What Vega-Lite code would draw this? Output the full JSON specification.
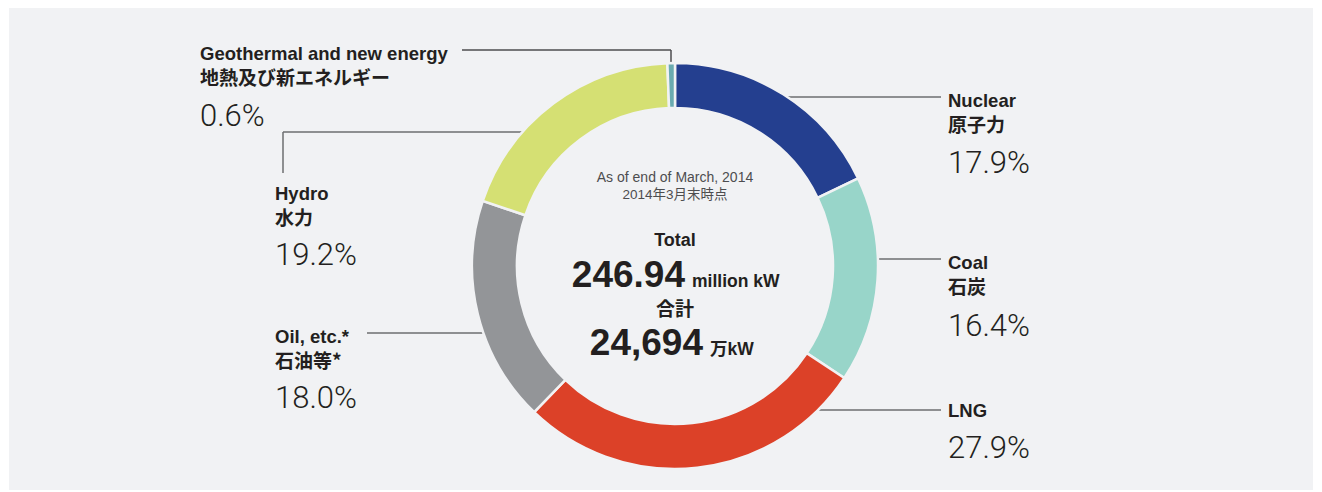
{
  "$schema": "https://vega.github.io/schema/vega-lite/v6.json",
  "width": 1304,
  "height": 482,
  "autosize": {"type": "none"},
  "padding": {"left": 9, "top": 8, "right": 9, "bottom": 2},
  "background": "#ffffff",
  "config": {"view": {"fill": "#f1f2f4", "stroke": null}},
  "datasets": {
    "energy": [
      {"source": "Nuclear", "jp": "原子力", "share": 0.179},
      {"source": "Coal", "jp": "石炭", "share": 0.164},
      {"source": "LNG", "jp": "", "share": 0.279},
      {"source": "Oil, etc.*", "jp": "石油等*", "share": 0.18},
      {"source": "Hydro", "jp": "水力", "share": 0.192},
      {"source": "Geothermal and new energy", "jp": "地熱及び新エネルギー", "share": 0.006}
    ],
    "total": [
      {"date_en": "As of end of March, 2014", "date_jp": "2014年3月末時点", "million_kw": 246.94, "man_kw": 24694}
    ]
  },
  "data": {"name": "energy"},
  "layer": [
    {"transform": [{"filter": {"field": "source", "equal": "Nuclear"}}], "mark": {"type": "rule", "stroke": "#6d6e71", "strokeWidth": 1.5},
     "encoding": {"x": {"datum": 112, "scale": {"domain": [-666, 638], "nice": false, "zero": false}, "axis": null}, "x2": {"datum": 266}, "y": {"datum": -169, "scale": {"domain": [-258, 224], "reverse": true, "nice": false, "zero": false}, "axis": null}}},
    {"transform": [{"filter": {"field": "source", "equal": "Coal"}}], "mark": {"type": "rule", "stroke": "#6d6e71", "strokeWidth": 1.5},
     "encoding": {"x": {"datum": 200, "scale": {"domain": [-666, 638], "nice": false, "zero": false}, "axis": null}, "x2": {"datum": 266}, "y": {"datum": -7, "scale": {"domain": [-258, 224], "reverse": true, "nice": false, "zero": false}, "axis": null}}},
    {"transform": [{"filter": {"field": "source", "equal": "LNG"}}], "mark": {"type": "rule", "stroke": "#6d6e71", "strokeWidth": 1.5},
     "encoding": {"x": {"datum": 140, "scale": {"domain": [-666, 638], "nice": false, "zero": false}, "axis": null}, "x2": {"datum": 266}, "y": {"datum": 144, "scale": {"domain": [-258, 224], "reverse": true, "nice": false, "zero": false}, "axis": null}}},
    {"transform": [{"filter": {"field": "source", "equal": "Oil, etc.*"}}], "mark": {"type": "rule", "stroke": "#6d6e71", "strokeWidth": 1.5},
     "encoding": {"x": {"datum": -308, "scale": {"domain": [-666, 638], "nice": false, "zero": false}, "axis": null}, "x2": {"datum": -190}, "y": {"datum": 67, "scale": {"domain": [-258, 224], "reverse": true, "nice": false, "zero": false}, "axis": null}}},
    {"transform": [{"filter": {"field": "source", "equal": "Hydro"}}], "mark": {"type": "rule", "stroke": "#6d6e71", "strokeWidth": 1.5},
     "encoding": {"x": {"datum": -392, "scale": {"domain": [-666, 638], "nice": false, "zero": false}, "axis": null}, "x2": {"datum": -150}, "y": {"datum": -134, "scale": {"domain": [-258, 224], "reverse": true, "nice": false, "zero": false}, "axis": null}}},
    {"transform": [{"filter": {"field": "source", "equal": "Hydro"}}], "mark": {"type": "rule", "stroke": "#6d6e71", "strokeWidth": 1.5},
     "encoding": {"x": {"datum": -392, "scale": {"domain": [-666, 638], "nice": false, "zero": false}, "axis": null}, "y": {"datum": -134, "scale": {"domain": [-258, 224], "reverse": true, "nice": false, "zero": false}, "axis": null}, "y2": {"datum": -93}}},
    {"transform": [{"filter": {"field": "source", "equal": "Geothermal and new energy"}}], "mark": {"type": "rule", "stroke": "#4d4d4f", "strokeWidth": 1.5},
     "encoding": {"x": {"datum": -213, "scale": {"domain": [-666, 638], "nice": false, "zero": false}, "axis": null}, "x2": {"datum": -4}, "y": {"datum": -216, "scale": {"domain": [-258, 224], "reverse": true, "nice": false, "zero": false}, "axis": null}}},
    {"transform": [{"filter": {"field": "source", "equal": "Geothermal and new energy"}}], "mark": {"type": "rule", "stroke": "#4d4d4f", "strokeWidth": 1.5},
     "encoding": {"x": {"datum": -4, "scale": {"domain": [-666, 638], "nice": false, "zero": false}, "axis": null}, "y": {"datum": -216, "scale": {"domain": [-258, 224], "reverse": true, "nice": false, "zero": false}, "axis": null}, "y2": {"datum": -200}}},
    {
      "transform": [{"window": [{"op": "row_number", "as": "rank"}]}],
      "mark": {"type": "arc", "outerRadius": 203, "innerRadius": 158, "stroke": "#f1f2f4", "strokeWidth": 2.5},
      "encoding": {
        "x": {"datum": 0, "scale": {"domain": [-666, 638], "nice": false, "zero": false}, "axis": null},
        "y": {"datum": 0, "scale": {"domain": [-258, 224], "reverse": true, "nice": false, "zero": false}, "axis": null},
        "theta": {"field": "share", "type": "quantitative", "stack": true},
        "order": {"field": "rank", "type": "quantitative"},
        "color": {"field": "source", "type": "nominal", "legend": null,
          "scale": {"domain": ["Nuclear", "Coal", "LNG", "Oil, etc.*", "Hydro", "Geothermal and new energy"],
                    "range": ["#243f8f", "#98d5c9", "#dc4128", "#939598", "#d5e073", "#6aabb0"]}}
      }
    },
    {"transform": [{"filter": {"field": "source", "equal": "Nuclear"}}], "mark": {"type": "text", "align": "left", "baseline": "alphabetic", "fontSize": 18.5, "fontWeight": "bold", "font": "Liberation Sans, Noto Sans CJK JP, sans-serif", "fill": "#231f20"},
     "encoding": {"x": {"datum": 273, "scale": {"domain": [-666, 638], "nice": false, "zero": false}, "axis": null}, "y": {"datum": -159, "scale": {"domain": [-258, 224], "reverse": true, "nice": false, "zero": false}, "axis": null}, "text": {"field": "source"}}},
    {"transform": [{"filter": {"field": "source", "equal": "Nuclear"}}], "mark": {"type": "text", "align": "left", "baseline": "alphabetic", "fontSize": 19, "fontWeight": "bold", "font": "Noto Sans CJK JP, sans-serif", "fill": "#231f20"},
     "encoding": {"x": {"datum": 273, "scale": {"domain": [-666, 638], "nice": false, "zero": false}, "axis": null}, "y": {"datum": -134, "scale": {"domain": [-258, 224], "reverse": true, "nice": false, "zero": false}, "axis": null}, "text": {"field": "jp"}}},
    {"transform": [{"filter": {"field": "source", "equal": "Nuclear"}}], "mark": {"type": "text", "align": "left", "baseline": "alphabetic", "fontSize": 31, "fontWeight": 300, "font": "Roboto, Liberation Sans, sans-serif", "fill": "#231f20"},
     "encoding": {"x": {"datum": 273, "scale": {"domain": [-666, 638], "nice": false, "zero": false}, "axis": null}, "y": {"datum": -93, "scale": {"domain": [-258, 224], "reverse": true, "nice": false, "zero": false}, "axis": null}, "text": {"field": "share", "format": ".1%"}}},
    {"transform": [{"filter": {"field": "source", "equal": "Coal"}}], "mark": {"type": "text", "align": "left", "baseline": "alphabetic", "fontSize": 18.5, "fontWeight": "bold", "font": "Liberation Sans, Noto Sans CJK JP, sans-serif", "fill": "#231f20"},
     "encoding": {"x": {"datum": 273, "scale": {"domain": [-666, 638], "nice": false, "zero": false}, "axis": null}, "y": {"datum": 3, "scale": {"domain": [-258, 224], "reverse": true, "nice": false, "zero": false}, "axis": null}, "text": {"field": "source"}}},
    {"transform": [{"filter": {"field": "source", "equal": "Coal"}}], "mark": {"type": "text", "align": "left", "baseline": "alphabetic", "fontSize": 19, "fontWeight": "bold", "font": "Noto Sans CJK JP, sans-serif", "fill": "#231f20"},
     "encoding": {"x": {"datum": 273, "scale": {"domain": [-666, 638], "nice": false, "zero": false}, "axis": null}, "y": {"datum": 28, "scale": {"domain": [-258, 224], "reverse": true, "nice": false, "zero": false}, "axis": null}, "text": {"field": "jp"}}},
    {"transform": [{"filter": {"field": "source", "equal": "Coal"}}], "mark": {"type": "text", "align": "left", "baseline": "alphabetic", "fontSize": 31, "fontWeight": 300, "font": "Roboto, Liberation Sans, sans-serif", "fill": "#231f20"},
     "encoding": {"x": {"datum": 273, "scale": {"domain": [-666, 638], "nice": false, "zero": false}, "axis": null}, "y": {"datum": 70, "scale": {"domain": [-258, 224], "reverse": true, "nice": false, "zero": false}, "axis": null}, "text": {"field": "share", "format": ".1%"}}},
    {"transform": [{"filter": {"field": "source", "equal": "LNG"}}], "mark": {"type": "text", "align": "left", "baseline": "alphabetic", "fontSize": 18.5, "fontWeight": "bold", "font": "Liberation Sans, Noto Sans CJK JP, sans-serif", "fill": "#231f20"},
     "encoding": {"x": {"datum": 273, "scale": {"domain": [-666, 638], "nice": false, "zero": false}, "axis": null}, "y": {"datum": 151, "scale": {"domain": [-258, 224], "reverse": true, "nice": false, "zero": false}, "axis": null}, "text": {"field": "source"}}},
    {"transform": [{"filter": {"field": "source", "equal": "LNG"}}], "mark": {"type": "text", "align": "left", "baseline": "alphabetic", "fontSize": 31, "fontWeight": 300, "font": "Roboto, Liberation Sans, sans-serif", "fill": "#231f20"},
     "encoding": {"x": {"datum": 273, "scale": {"domain": [-666, 638], "nice": false, "zero": false}, "axis": null}, "y": {"datum": 192, "scale": {"domain": [-258, 224], "reverse": true, "nice": false, "zero": false}, "axis": null}, "text": {"field": "share", "format": ".1%"}}},
    {"transform": [{"filter": {"field": "source", "equal": "Oil, etc.*"}}], "mark": {"type": "text", "align": "left", "baseline": "alphabetic", "fontSize": 18.5, "fontWeight": "bold", "font": "Liberation Sans, Noto Sans CJK JP, sans-serif", "fill": "#231f20"},
     "encoding": {"x": {"datum": -400, "scale": {"domain": [-666, 638], "nice": false, "zero": false}, "axis": null}, "y": {"datum": 77, "scale": {"domain": [-258, 224], "reverse": true, "nice": false, "zero": false}, "axis": null}, "text": {"field": "source"}}},
    {"transform": [{"filter": {"field": "source", "equal": "Oil, etc.*"}}], "mark": {"type": "text", "align": "left", "baseline": "alphabetic", "fontSize": 19, "fontWeight": "bold", "font": "Noto Sans CJK JP, sans-serif", "fill": "#231f20"},
     "encoding": {"x": {"datum": -400, "scale": {"domain": [-666, 638], "nice": false, "zero": false}, "axis": null}, "y": {"datum": 102, "scale": {"domain": [-258, 224], "reverse": true, "nice": false, "zero": false}, "axis": null}, "text": {"field": "jp"}}},
    {"transform": [{"filter": {"field": "source", "equal": "Oil, etc.*"}}], "mark": {"type": "text", "align": "left", "baseline": "alphabetic", "fontSize": 31, "fontWeight": 300, "font": "Roboto, Liberation Sans, sans-serif", "fill": "#231f20"},
     "encoding": {"x": {"datum": -400, "scale": {"domain": [-666, 638], "nice": false, "zero": false}, "axis": null}, "y": {"datum": 142, "scale": {"domain": [-258, 224], "reverse": true, "nice": false, "zero": false}, "axis": null}, "text": {"field": "share", "format": ".1%"}}},
    {"transform": [{"filter": {"field": "source", "equal": "Hydro"}}], "mark": {"type": "text", "align": "left", "baseline": "alphabetic", "fontSize": 18.5, "fontWeight": "bold", "font": "Liberation Sans, Noto Sans CJK JP, sans-serif", "fill": "#231f20"},
     "encoding": {"x": {"datum": -400, "scale": {"domain": [-666, 638], "nice": false, "zero": false}, "axis": null}, "y": {"datum": -66, "scale": {"domain": [-258, 224], "reverse": true, "nice": false, "zero": false}, "axis": null}, "text": {"field": "source"}}},
    {"transform": [{"filter": {"field": "source", "equal": "Hydro"}}], "mark": {"type": "text", "align": "left", "baseline": "alphabetic", "fontSize": 19, "fontWeight": "bold", "font": "Noto Sans CJK JP, sans-serif", "fill": "#231f20"},
     "encoding": {"x": {"datum": -400, "scale": {"domain": [-666, 638], "nice": false, "zero": false}, "axis": null}, "y": {"datum": -41, "scale": {"domain": [-258, 224], "reverse": true, "nice": false, "zero": false}, "axis": null}, "text": {"field": "jp"}}},
    {"transform": [{"filter": {"field": "source", "equal": "Hydro"}}], "mark": {"type": "text", "align": "left", "baseline": "alphabetic", "fontSize": 31, "fontWeight": 300, "font": "Roboto, Liberation Sans, sans-serif", "fill": "#231f20"},
     "encoding": {"x": {"datum": -400, "scale": {"domain": [-666, 638], "nice": false, "zero": false}, "axis": null}, "y": {"datum": -1, "scale": {"domain": [-258, 224], "reverse": true, "nice": false, "zero": false}, "axis": null}, "text": {"field": "share", "format": ".1%"}}},
    {"transform": [{"filter": {"field": "source", "equal": "Geothermal and new energy"}}], "mark": {"type": "text", "align": "left", "baseline": "alphabetic", "fontSize": 18.5, "fontWeight": "bold", "font": "Liberation Sans, Noto Sans CJK JP, sans-serif", "fill": "#231f20"},
     "encoding": {"x": {"datum": -475, "scale": {"domain": [-666, 638], "nice": false, "zero": false}, "axis": null}, "y": {"datum": -206, "scale": {"domain": [-258, 224], "reverse": true, "nice": false, "zero": false}, "axis": null}, "text": {"field": "source"}}},
    {"transform": [{"filter": {"field": "source", "equal": "Geothermal and new energy"}}], "mark": {"type": "text", "align": "left", "baseline": "alphabetic", "fontSize": 19, "fontWeight": "bold", "font": "Noto Sans CJK JP, sans-serif", "fill": "#231f20"},
     "encoding": {"x": {"datum": -475, "scale": {"domain": [-666, 638], "nice": false, "zero": false}, "axis": null}, "y": {"datum": -181, "scale": {"domain": [-258, 224], "reverse": true, "nice": false, "zero": false}, "axis": null}, "text": {"field": "jp"}}},
    {"transform": [{"filter": {"field": "source", "equal": "Geothermal and new energy"}}], "mark": {"type": "text", "align": "left", "baseline": "alphabetic", "fontSize": 31, "fontWeight": 300, "font": "Roboto, Liberation Sans, sans-serif", "fill": "#231f20"},
     "encoding": {"x": {"datum": -475, "scale": {"domain": [-666, 638], "nice": false, "zero": false}, "axis": null}, "y": {"datum": -140, "scale": {"domain": [-258, 224], "reverse": true, "nice": false, "zero": false}, "axis": null}, "text": {"field": "share", "format": ".1%"}}},
    {"data": {"name": "total"}, "mark": {"type": "text", "align": "center", "baseline": "alphabetic", "fontSize": 14, "font": "Liberation Sans, sans-serif", "fill": "#4d4d4f"},
     "encoding": {"x": {"datum": 0, "scale": {"domain": [-666, 638], "nice": false, "zero": false}, "axis": null}, "y": {"datum": -84, "scale": {"domain": [-258, 224], "reverse": true, "nice": false, "zero": false}, "axis": null}, "text": {"field": "date_en"}}},
    {"data": {"name": "total"}, "mark": {"type": "text", "align": "center", "baseline": "alphabetic", "fontSize": 13.5, "font": "Liberation Sans, Noto Sans CJK JP, sans-serif", "fill": "#4d4d4f"},
     "encoding": {"x": {"datum": 0, "scale": {"domain": [-666, 638], "nice": false, "zero": false}, "axis": null}, "y": {"datum": -67, "scale": {"domain": [-258, 224], "reverse": true, "nice": false, "zero": false}, "axis": null}, "text": {"field": "date_jp"}}},
    {"data": {"name": "total"}, "mark": {"type": "text", "text": "Total", "align": "center", "baseline": "alphabetic", "fontSize": 18, "fontWeight": "bold", "font": "Liberation Sans, sans-serif", "fill": "#231f20"},
     "encoding": {"x": {"datum": 0, "scale": {"domain": [-666, 638], "nice": false, "zero": false}, "axis": null}, "y": {"datum": -20, "scale": {"domain": [-258, 224], "reverse": true, "nice": false, "zero": false}, "axis": null}}},
    {"data": {"name": "total"}, "mark": {"type": "text", "align": "right", "baseline": "alphabetic", "fontSize": 37, "fontWeight": "bold", "font": "Liberation Sans, sans-serif", "fill": "#231f20"},
     "encoding": {"x": {"datum": 10, "scale": {"domain": [-666, 638], "nice": false, "zero": false}, "axis": null}, "y": {"datum": 21, "scale": {"domain": [-258, 224], "reverse": true, "nice": false, "zero": false}, "axis": null}, "text": {"field": "million_kw", "format": ".2f"}}},
    {"data": {"name": "total"}, "mark": {"type": "text", "text": "million kW", "align": "left", "baseline": "alphabetic", "fontSize": 17.5, "fontWeight": "bold", "font": "Liberation Sans, sans-serif", "fill": "#231f20"},
     "encoding": {"x": {"datum": 17, "scale": {"domain": [-666, 638], "nice": false, "zero": false}, "axis": null}, "y": {"datum": 21, "scale": {"domain": [-258, 224], "reverse": true, "nice": false, "zero": false}, "axis": null}}},
    {"data": {"name": "total"}, "mark": {"type": "text", "text": "合計", "align": "center", "baseline": "alphabetic", "fontSize": 19, "fontWeight": "bold", "font": "Noto Sans CJK JP, sans-serif", "fill": "#231f20"},
     "encoding": {"x": {"datum": 0, "scale": {"domain": [-666, 638], "nice": false, "zero": false}, "axis": null}, "y": {"datum": 50, "scale": {"domain": [-258, 224], "reverse": true, "nice": false, "zero": false}, "axis": null}}},
    {"data": {"name": "total"}, "mark": {"type": "text", "align": "right", "baseline": "alphabetic", "fontSize": 37, "fontWeight": "bold", "font": "Liberation Sans, sans-serif", "fill": "#231f20"},
     "encoding": {"x": {"datum": 28, "scale": {"domain": [-666, 638], "nice": false, "zero": false}, "axis": null}, "y": {"datum": 89, "scale": {"domain": [-258, 224], "reverse": true, "nice": false, "zero": false}, "axis": null}, "text": {"field": "man_kw", "format": ","}}},
    {"data": {"name": "total"}, "mark": {"type": "text", "text": "万kW", "align": "left", "baseline": "alphabetic", "fontSize": 17.5, "fontWeight": "bold", "font": "Liberation Sans, Noto Sans CJK JP, sans-serif", "fill": "#231f20"},
     "encoding": {"x": {"datum": 35, "scale": {"domain": [-666, 638], "nice": false, "zero": false}, "axis": null}, "y": {"datum": 89, "scale": {"domain": [-258, 224], "reverse": true, "nice": false, "zero": false}, "axis": null}}}
  ]
}
